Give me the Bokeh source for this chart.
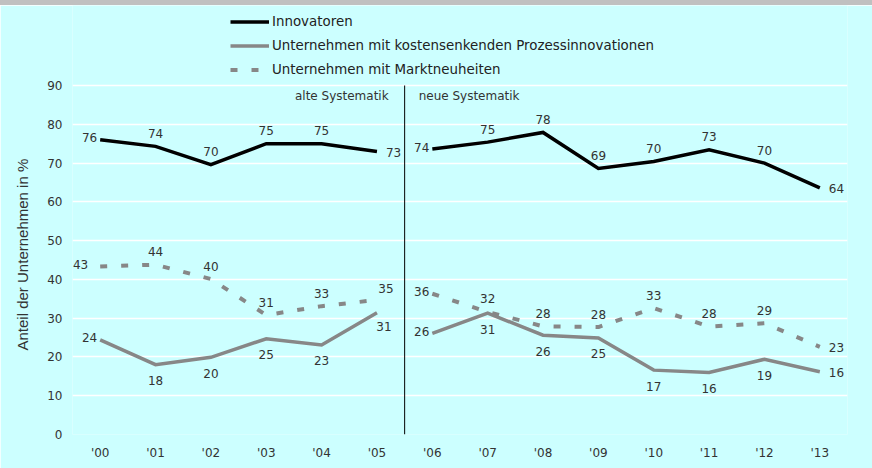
from bokeh.plotting import figure
from bokeh.layouts import column
from bokeh.models import (ColumnDataSource, Range1d, FixedTicker, Legend, LegendItem,
                          Label, Div, Title)
from bokeh.embed import file_html
from bokeh.resources import INLINE
from bokeh.core.properties import value, field

# ---------------- data ----------------
years = ["'00", "'01", "'02", "'03", "'04", "'05", "'06",
         "'07", "'08", "'09", "'10", "'11", "'12", "'13"]
innovatoren = [76.0, 74.3, 69.6, 75.0, 75.0, 73.0, 73.6, 75.4, 77.9, 68.6, 70.4, 73.4, 70.0, 63.6]
prozess = [24.4, 18.0, 19.9, 24.7, 23.1, 31.4, 26.1, 31.3, 25.6, 24.9, 16.6, 16.0, 19.4, 16.2]
markt = [43.3, 43.8, 40.1, 30.8, 33.1, 34.7, 36.3, 31.6, 27.9, 27.7, 32.6, 27.85, 28.7, 22.6]
series_names = ["Innovatoren",
                "Unternehmen mit kostensenkenden Prozessinnovationen",
                "Unternehmen mit Marktneuheiten"]
n_old = 6  # years '00-'05 use the old methodology
y_ticks = [0, 10, 20, 30, 40, 50, 60, 70, 80, 90]
split_label_left = "alte Systematik"
split_label_right = "neue Systematik"
y_label = "Anteil der Unternehmen in %"

# ---------------- style / placement ----------------
BG = "#ccffff"
GRAY = "#878787"
TXT = "#333333"
place_inno = ["L", "A", "A", "A", "A", "R", "L", "A", "A", "A", "A", "A", "A", "R"]
place_proz = ["L", "B", "B", "B", "B", "BR", "L", "B", "B", "B", "B", "B", "B", "R"]
place_markt = ["LL", "A", "A", "A", "A", "AR", "L", "A", "A", "A", "A", "A", "A", "R"]
code_map = {
    "A": ("center", 0, -13),
    "B": ("center", 0, 16),
    "L": ("right", -3, -2),
    "LL": ("right", -12, -2),
    "R": ("left", 9, 1),
    "BR": ("center", 7, 14),
    "AR": ("center", 9, -11),
}

xs = list(range(len(years)))
split_x = n_old - 0.5
y_top = y_ticks[-1]

p = figure(width=872, height=463, output_backend="svg", toolbar_location=None,
           title=None, x_range=Range1d(-0.5, len(years) - 0.5),
           y_range=Range1d(0, 110.63),
           min_border_left=72, min_border_right=25, min_border_top=0,
           min_border_bottom=34)
p.background_fill_color = BG
p.border_fill_color = BG
p.outline_line_color = None

# axes
p.xaxis.ticker = FixedTicker(ticks=xs)
p.xaxis.major_label_overrides = {i: y for i, y in enumerate(years)}
p.yaxis.ticker = FixedTicker(ticks=y_ticks)
for ax in (p.xaxis[0], p.yaxis[0]):
    ax.axis_line_color = None
    ax.major_tick_line_color = None
    ax.minor_tick_line_color = None
    ax.major_tick_out = 0
    ax.major_tick_in = 0
    ax.major_label_text_font = "DejaVu Sans"
    ax.major_label_text_font_size = "12px"
    ax.major_label_text_color = TXT
p.xaxis.major_label_standoff = 11
p.yaxis.major_label_standoff = 10

# y-axis title (rotated, placed left of tick labels)
p.add_layout(Title(text=y_label, align="left", vertical_align="top", offset=84, standoff=24,
                   text_font="Liberation Sans", text_font_size="15px",
                   text_font_style="normal", text_color=TXT), "left")

p.xgrid.grid_line_color = None
p.ygrid.grid_line_color = "white"
p.ygrid.grid_line_width = 1.5

# separator
p.segment(x0=[split_x], y0=[0], x1=[split_x], y1=[y_top], line_color="black", line_width=1)
p.add_layout(Label(x=split_x, y=y_top, text=split_label_left, x_offset=-16, y_offset=-11,
                   text_align="right", text_baseline="middle", text_font="DejaVu Sans",
                   text_font_size="12px", text_color=TXT))
p.add_layout(Label(x=split_x, y=y_top, text=split_label_right, x_offset=14, y_offset=-11,
                   text_align="left", text_baseline="middle", text_font="DejaVu Sans",
                   text_font_size="12px", text_color=TXT))


def two_lines(vals, **kw):
    r1 = p.line(xs[:n_old], vals[:n_old], **kw)
    r2 = p.line(xs[n_old:], vals[n_old:], **kw)
    return [r1, r2]


r_markt = two_lines(markt, line_color=GRAY, line_width=4, line_dash="7 14", line_cap="butt")
r_proz = two_lines(prozess, line_color=GRAY, line_width=3.5, line_join="miter")
r_inno = two_lines(innovatoren, line_color="black", line_width=3.5, line_join="miter")


def add_labels(vals, places):
    src = ColumnDataSource(dict(
        x=xs, y=vals, text=[str(int(round(v))) for v in vals],
        align=[code_map[c][0] for c in places],
        dx=[code_map[c][1] for c in places],
        dy=[code_map[c][2] for c in places]))
    p.text(x="x", y="y", text="text", source=src, text_align=field("align"),
           x_offset=field("dx"), y_offset=field("dy"), text_baseline="middle",
           text_font=value("DejaVu Sans"), text_font_size="12px", text_color=TXT)


add_labels(innovatoren, place_inno)
add_labels(prozess, place_proz)
add_labels(markt, place_markt)

legend = Legend(items=[LegendItem(label=series_names[0], renderers=[r_inno[0]]),
                       LegendItem(label=series_names[1], renderers=[r_proz[0]]),
                       LegendItem(label=series_names[2], renderers=[r_markt[0]])],
                location=(158, 354), orientation="vertical",
                glyph_width=39, glyph_height=21, label_height=21, label_standoff=3,
                spacing=3, padding=0, margin=0,
                label_text_font="DejaVu Sans", label_text_font_size="13.4px",
                label_text_color="#222222",
                background_fill_alpha=0, border_line_alpha=0)
p.add_layout(legend)

bar = Div(text="", width=872, height=5, margin=0,
          styles={"background-color": "#c0c0c0"})
layout = column(bar, p, spacing=0, margin=0)

open("out.html", "w").write(file_html(layout, INLINE))
